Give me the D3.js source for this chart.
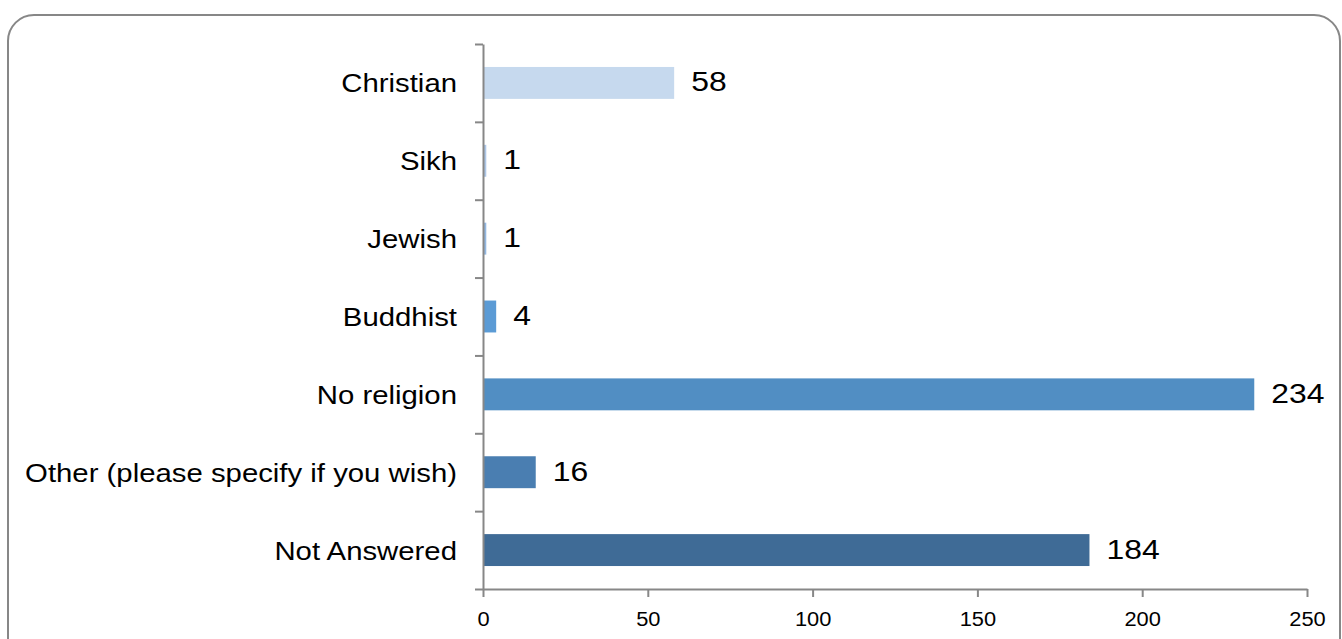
<!DOCTYPE html>
<html>
<head>
<meta charset="utf-8">
<script src="https://cdn.jsdelivr.net/npm/d3@7"></script>
<style>
  body { margin: 0; background: #fff; }
  text { font-family: "Liberation Sans", Arial, sans-serif; fill: #000; }
</style>
</head>
<body>
<div id="chart"></div>
<script>
// data
const categories = ["Christian", "Sikh", "Jewish", "Buddhist", "No religion", "Other (please specify if you wish)", "Not Answered"];
const counts = [58, 1, 1, 4, 234, 16, 184];
const barColors = ["#c6d9ee", "#adc7e7", "#93b8e2", "#5b9bd5", "#518ec3", "#4a7eb1", "#3f6b96"];
const xTicks = [0, 50, 100, 150, 200, 250];

const w = 1342, h = 639;
const sx = 1.12; // text in the picture is a bit wide

const svg = d3.select("#chart").append("svg")
  .attr("width", w)
  .attr("height", h);

// frame
svg.append("rect")
  .attr("x", 8).attr("y", 15)
  .attr("width", 1332).attr("height", 660)
  .attr("rx", 26).attr("ry", 26)
  .attr("fill", "none")
  .attr("stroke", "#878787")
  .attr("stroke-width", 2);

const x = d3.scaleLinear().domain([0, 250]).range([483, 1307]);
const y = d3.scaleBand().domain(categories).range([44, 589])
  .paddingInner(0.59).paddingOuter(0.295);

// bars
svg.append("g").selectAll("rect")
  .data(categories)
  .join("rect")
  .attr("x", x(0))
  .attr("y", d => y(d))
  .attr("width", (d, i) => x(counts[i]) - x(0))
  .attr("height", y.bandwidth())
  .attr("fill", (d, i) => barColors[i]);

// value labels
svg.append("g").selectAll("text")
  .data(categories)
  .join("text")
  .attr("transform", (d, i) => `translate(${x(counts[i]) + 17},${y(d) + y.bandwidth() / 2 + 8.5}) scale(1.16,1)`)
  .attr("font-size", 27.5)
  .text((d, i) => counts[i]);

// category labels
svg.append("g").selectAll("text")
  .data(categories)
  .join("text")
  .attr("transform", d => `translate(457,${y(d) + y.bandwidth() / 2 + 9.5}) scale(${sx},1)`)
  .attr("text-anchor", "end")
  .attr("font-size", 26.2)
  .text(d => d);

// left axis, ticks between categories
const yEdge = d3.scaleLinear().domain([0, categories.length]).range([44, 589]);
const yAxis = svg.append("g")
  .attr("transform", `translate(${x(0)},0)`)
  .call(d3.axisLeft(yEdge).ticks(categories.length).tickSize(8).tickSizeOuter(0).tickFormat(""));

// bottom axis
const xAxis = svg.append("g")
  .attr("transform", "translate(0,589)")
  .call(d3.axisBottom(x).tickValues(xTicks).tickSize(8).tickSizeOuter(0));

xAxis.selectAll("text")
  .attr("y", 37).attr("dy", null)
  .attr("font-size", 19.5)
  .attr("font-family", "Liberation Sans, Arial, sans-serif")
  .attr("fill", "#000")
  .attr("transform", `scale(${sx},1)`);

[yAxis, xAxis].forEach(a => {
  a.selectAll("path, line").attr("stroke", "#878787").attr("stroke-width", 2);
});
</script>
</body>
</html>
